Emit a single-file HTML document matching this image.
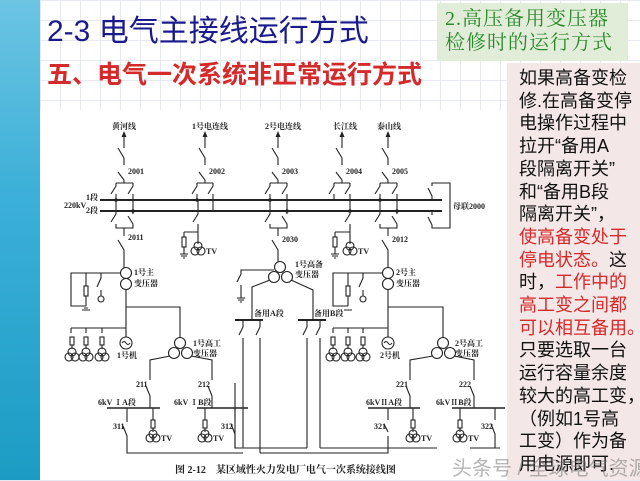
<!DOCTYPE html>
<html><head><meta charset="utf-8"><style>
html,body{margin:0;padding:0}
body{width:640px;height:480px;overflow:hidden;position:relative;background:#fff;font-family:"Liberation Sans","Noto Sans CJK SC",sans-serif;
background-image:linear-gradient(#e6e9ef 1px,transparent 1px),linear-gradient(90deg,#e6e9ef 1px,transparent 1px);background-size:20px 20px}
.strip{position:absolute;left:0;top:0;width:40px;height:480px;background:linear-gradient(180deg,#6cc4e2 0%,#3cb0d8 40%,#1c9cc4 100%)}
.t1{position:absolute;left:47px;top:6px;font-size:30px;color:#1a1a8c;white-space:nowrap}
.t2{position:absolute;left:47px;top:55px;font-size:25px;color:#d42a2a;white-space:nowrap;font-weight:bold}
.g{position:absolute;left:437px;top:3px;width:191px;height:58px;background:#e2edd9;color:#2a8a2a;font-family:"Liberation Serif","Noto Serif CJK SC",serif;font-size:20px;line-height:24px;padding:4px 0 0 8px;box-sizing:border-box;letter-spacing:1px}
.p{position:absolute;left:507px;top:63px;width:133px;height:417px;background:#f3e7e7;font-size:18px;line-height:22.7px;padding:4px 0 0 12px;box-sizing:border-box;color:#111;white-space:nowrap}
.r{color:#d42a2a}
.wm{position:absolute;left:452px;top:452px;font-size:20px;color:rgba(120,120,120,.55);white-space:nowrap}
svg{position:absolute;left:0;top:0}
</style></head><body>
<div class="strip"></div>
<svg width="640" height="480" viewBox="0 0 640 480">
<rect x="40" y="110" width="467" height="370" fill="#fff"/>
<g stroke="#222" stroke-width="1.1" fill="none">
<!-- buses -->
<line x1="100" y1="200" x2="442" y2="200" stroke-width="2"/>
<line x1="100" y1="211" x2="442" y2="211" stroke-width="2"/>
<!-- feeders top -->
<path d="M124 134V148M118 148L124 158V165M118 172L124 180V183M116 183H133M116 183V186L111 194M116 194V200M133 183V186L128 194M133 194V211"/>
<path d="M205 134V148M199 148L205 158V165M199 172L205 180V183M197 183H213M197 183V186L192 194M197 194V200M213 183V186L208 194M213 194V211"/>
<path d="M278 134V148M272 148L278 158V165M272 172L278 180V183M270 183H287M270 183V186L265 194M270 194V200M287 183V186L282 194M287 194V211"/>
<path d="M342 134V148M336 148L342 158V165M336 172L342 180V183M334 183H350M334 183V186L329 194M334 194V200M350 183V186L345 194M350 194V211"/>
<path d="M388 134V148M382 148L388 158V165M382 172L388 180V183M380 183H397M380 183V186L375 194M380 194V200M397 183V186L392 194M397 194V211"/>
<!-- bus coupler -->
<path d="M432 200V196L428 188M432 186V183H450V228H432V225L428 217M432 215V211"/>
<!-- below bus: 2011 -->
<path d="M116 200V214L111 222M116 224V228H133V224L128 216M133 214V211M124 228V236M118 240L124 250V268"/>
<path d="M270 200V214L265 222M270 224V228H287V224L282 216M287 214V211M278 228V236M272 240L278 250V262"/>
<path d="M380 200V214L375 222M380 224V228H397V224L392 216M397 214V211M388 228V236M382 240L388 250V268"/>
<!-- TV branches -->
<path d="M198 200V214L193 222M198 224V244M184 232H198M184 232V237M184 247V254M180 254H188M181 256H187M183 258H185"/>
<rect x="182" y="237" width="4" height="10"/>
<path d="M350 211V214L345 222M350 224V244M335 232H350M335 232V237M335 247V254M331 254H339M332 256H338M334 258H336"/>
<rect x="333" y="237" width="4" height="10"/>
<circle cx="195" cy="251" r="4"/><circle cx="201" cy="251" r="4"/><circle cx="198" cy="246" r="4"/>
<circle cx="347" cy="251" r="4"/><circle cx="353" cy="251" r="4"/><circle cx="350" cy="246" r="4"/>
<!-- main transformers -->
<circle cx="126" cy="273" r="5.5"/><circle cx="126" cy="284" r="5.5"/>
<circle cx="388" cy="273" r="5.5"/><circle cx="388" cy="284" r="5.5"/>
<path d="M120 273H71V306H86M71 285V292M86 273V286M86 296V306M84 308H88M101 273V278L97 287M101 290V296M82 310H90"/>
<rect x="84" y="286" width="4" height="10"/><circle cx="101" cy="299" r="3"/>
<path d="M382 273H333V306H348M333 285V292M348 273V286M348 296V306M363 273V278L359 287M363 290V296M344 310H352"/>
<rect x="346" y="286" width="4" height="10"/><circle cx="363" cy="299" r="3"/>
<!-- low side -->
<path d="M126 289.5V337M126 307H180V338M71 328H126M71 328V333M86 328V333M102 328V333"/>
<path d="M388 289.5V337M388 307H443V338M333 328H388M333 328V333M348 328V333M363 328V333"/>
<circle cx="126" cy="343" r="6"/><circle cx="388" cy="343" r="6"/>
<path d="M122 343q2-3 4 0t4 0M384 343q2-3 4 0t4 0"/>
<!-- aux TVs -->
<g>
<rect x="70" y="337" width="4" height="8"/><rect x="84" y="337" width="4" height="8"/><rect x="100" y="337" width="4" height="8"/>
<rect x="331" y="337" width="4" height="8"/><rect x="346" y="337" width="4" height="8"/><rect x="361" y="337" width="4" height="8"/>
<path d="M72 345V349M86 345V349M102 345V349M333 345V349M348 345V349M363 345V349"/>
<circle cx="69" cy="357" r="4"/><circle cx="75" cy="357" r="4"/><circle cx="72" cy="352" r="4"/>
<circle cx="83" cy="357" r="4"/><circle cx="89" cy="357" r="4"/><circle cx="86" cy="352" r="4"/>
<circle cx="99" cy="357" r="4"/><circle cx="105" cy="357" r="4"/><circle cx="102" cy="352" r="4"/>
<circle cx="330" cy="357" r="4"/><circle cx="336" cy="357" r="4"/><circle cx="333" cy="352" r="4"/>
<circle cx="345" cy="357" r="4"/><circle cx="351" cy="357" r="4"/><circle cx="348" cy="352" r="4"/>
<circle cx="360" cy="357" r="4"/><circle cx="366" cy="357" r="4"/><circle cx="363" cy="352" r="4"/>
</g>
<!-- high standby transformer -->
<circle cx="280" cy="267" r="5.5"/><circle cx="274" cy="277" r="5.5"/><circle cx="287" cy="277" r="5.5"/>
<path d="M274 270H241V274L237 282M241 285V298M237 298H245M238 300H244M240 302H242"/>
<path d="M270 280L252 287V320M291 280L313 290V320"/>
<path d="M235 320H263M298 320H326" stroke-width="2"/>
<path d="M243 320V327L239 335M243 338V448H235V383M260 320V327L256 335M260 338V453M307 320V327L303 335M307 338V448M320 320V327L316 335M320 338V448"/>
<!-- high work transformers -->
<circle cx="180" cy="343" r="5.5"/><circle cx="174" cy="353" r="5.5"/><circle cx="187" cy="353" r="5.5"/>
<circle cx="443" cy="343" r="5.5"/><circle cx="437" cy="353" r="5.5"/><circle cx="450" cy="353" r="5.5"/>
<path d="M170 356L150 360V380M146 386L150 396V408M191 356L212 360V380M208 386L212 396V408"/>
<path d="M433 356L410 360V380M406 386L410 396V408M454 356L474 360V380M470 386L474 396V408"/>
<path d="M107 408H160M197 408H248M368 408H420M452 408H505" stroke-width="1.6"/>
<!-- 6kV feeders -->
<path d="M127 408V422M123 426L127 436V453H243M153 408V420M153 428V432M205 408V420M205 428V432M235 408V420M231 424L235 434V448H307"/>
<path d="M260 453H388V436M384 424L388 432M388 408V420M413 408V420M413 428V432M460 408V420M460 428V432M495 408V420M491 424L495 434V448M320 448H437M470 448H500"/>
<rect x="151" y="420" width="4" height="8"/><rect x="203" y="420" width="4" height="8"/><rect x="411" y="420" width="4" height="8"/><rect x="458" y="420" width="4" height="8"/>
<circle cx="150" cy="438" r="4"/><circle cx="156" cy="438" r="4"/><circle cx="153" cy="434" r="4"/>
<circle cx="202" cy="438" r="4"/><circle cx="208" cy="438" r="4"/><circle cx="205" cy="434" r="4"/>
<circle cx="410" cy="438" r="4"/><circle cx="416" cy="438" r="4"/><circle cx="413" cy="434" r="4"/>
<circle cx="457" cy="438" r="4"/><circle cx="463" cy="438" r="4"/><circle cx="460" cy="434" r="4"/>
</g>
<g fill="#222">
<path d="M124 131L121.5 137H126.5ZM205 131L202.5 137H207.5ZM278 131L275.5 137H280.5ZM342 131L339.5 137H344.5ZM388 131L385.5 137H390.5Z"/>
<circle cx="116" cy="200" r="1.8"/><circle cx="133" cy="211" r="1.8"/><circle cx="197" cy="200" r="1.8"/><circle cx="270" cy="200" r="1.8"/><circle cx="287" cy="211" r="1.8"/><circle cx="350" cy="211" r="1.8"/><circle cx="380" cy="200" r="1.8"/><circle cx="397" cy="211" r="1.8"/>
</g>
<g font-family="Liberation Serif,Noto Serif CJK SC,serif" font-size="8" fill="#222" font-weight="bold">
<text x="112" y="129">黄河线</text><text x="192" y="129">1号电连线</text><text x="265" y="129">2号电连线</text><text x="333" y="129">长江线</text><text x="377" y="129">泰山线</text>
<text x="128" y="174">2001</text><text x="209" y="174">2002</text><text x="282" y="174">2003</text><text x="346" y="174">2004</text><text x="392" y="174">2005</text>
<text x="128" y="240">2011</text><text x="282" y="242">2030</text><text x="392" y="242">2012</text>
<text x="86" y="200">1段</text><text x="86" y="213">2段</text><text x="64" y="208">220kV</text>
<text x="453" y="209">母联2000</text>
<text x="206" y="254">TV</text><text x="358" y="254">TV</text>
<text x="134" y="275">1号主</text><text x="134" y="286">变压器</text>
<text x="396" y="275">2号主</text><text x="396" y="286">变压器</text>
<text x="295" y="267">1号高备</text><text x="295" y="277">变压器</text>
<text x="254" y="316">备用A段</text><text x="314" y="316">备用B段</text>
<text x="117" y="358">1号机</text><text x="380" y="358">2号机</text>
<text x="193" y="346">1号高工</text><text x="193" y="356">变压器</text>
<text x="455" y="346">2号高工</text><text x="455" y="356">变压器</text>
<text x="136" y="387">211</text><text x="198" y="387">212</text><text x="396" y="387">221</text><text x="459" y="387">222</text>
<text x="98" y="405">6kV ⅠA段</text><text x="174" y="405">6kV ⅠB段</text><text x="366" y="405">6kVⅡA段</text><text x="436" y="405">6kVⅡB段</text>
<text x="113" y="429">311</text><text x="221" y="429">312</text><text x="374" y="429">321</text><text x="481" y="429">322</text>
<text x="161" y="441">TV</text><text x="213" y="441">TV</text><text x="421" y="441">TV</text><text x="468" y="441">TV</text>
<text x="175" y="473" font-size="10">图 2-12　某区域性火力发电厂电气一次系统接线图</text>
</g>
</svg>
<div class="t1">2-3 电气主接线运行方式</div>
<div class="t2">五、电气一次系统非正常运行方式</div>
<div class="g">2.高压备用变压器<br>检修时的运行方式</div>
<div class="p">如果高备变检<br>修.在高备变停<br>电操作过程中<br>拉开“备用A<br>段隔离开关”<br>和“备用B段<br>隔离开关”，<br><span class="r">使高备变处于</span><br><span class="r">停电状态。</span>这<br>时，<span class="r">工作中的</span><br><span class="r">高工变之间都</span><br><span class="r">可以相互备用。</span><br>只要选取一台<br>运行容量余度<br>较大的高工变，<br>（例如1号高<br>工变）作为备<br>用电源即可.</div>
<div class="wm">头条号 / 全球电气资源</div>
</body></html>
